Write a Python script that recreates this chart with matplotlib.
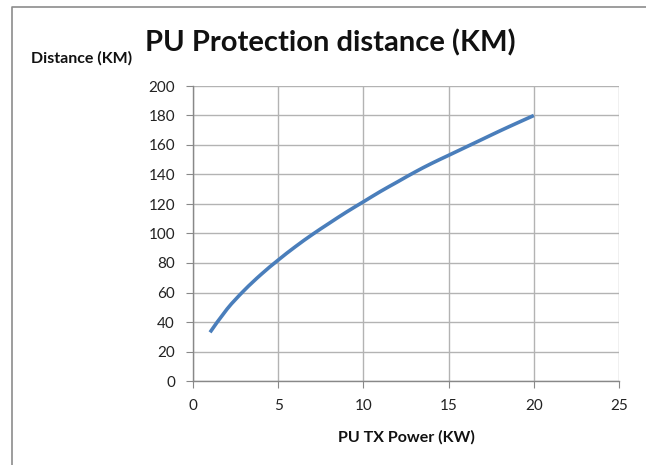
import matplotlib
matplotlib.use("Agg")
import matplotlib.pyplot as plt
from matplotlib.lines import Line2D
from matplotlib.path import Path
from matplotlib.patches import PathPatch

plt.rcParams['font.family'] = ['Lato', 'DejaVu Sans']

power_kw = [1, 2, 3, 4, 5, 6, 7, 8, 9, 10, 11, 12, 13, 14, 15, 16, 17, 18, 19, 20]
distance_km = [33, 48.8, 61.4, 72.3, 82, 91, 99.3, 107, 114.5, 121.5, 128.5, 135, 141.5,
               147.5, 153, 158.5, 164, 169.5, 174.8, 180]
x_ticks = [0, 5, 10, 15, 20, 25]
y_ticks = [0, 20, 40, 60, 80, 100, 120, 140, 160, 180, 200]

W, H = 646, 465
fig = plt.figure(figsize=(W / 100, H / 100), dpi=100)
ax = fig.add_axes([193 / W, 1 - 381 / H, (619 - 193) / W, (381 - 86) / H])


def smooth_path(xs, ys):
    # Catmull-Rom spline through the data points (like Excel's smoothed line)
    verts = [(xs[0], ys[0])]
    codes = [Path.MOVETO]
    n = len(xs)
    for i in range(n - 1):
        x0, y0 = (xs[i - 1], ys[i - 1]) if i > 0 else (xs[i], ys[i])
        x1, y1 = xs[i], ys[i]
        x2, y2 = xs[i + 1], ys[i + 1]
        x3, y3 = (xs[i + 2], ys[i + 2]) if i + 2 < n else (xs[i + 1], ys[i + 1])
        c1 = (x1 + (x2 - x0) / 6.0, y1 + (y2 - y0) / 6.0)
        c2 = (x2 - (x3 - x1) / 6.0, y2 - (y3 - y1) / 6.0)
        verts += [c1, c2, (x2, y2)]
        codes += [Path.CURVE4] * 3
    return Path(verts, codes)


ax.add_patch(PathPatch(smooth_path(power_kw, distance_km), facecolor='none',
                       edgecolor='#4a7ebb', lw=2.6, capstyle='butt', joinstyle='round'))

ax.set_xlim(0, 25)
ax.set_ylim(0, 200)
ax.set_xticks(x_ticks)
ax.set_yticks(y_ticks)
ax.grid(True, color='#b3b3b3', lw=1.0)
ax.set_axisbelow(True)
for s in ['top', 'right']:
    ax.spines[s].set_visible(False)
for s in ['left', 'bottom']:
    ax.spines[s].set_color('#888888')
    ax.spines[s].set_linewidth(1.0)
ax.tick_params(axis='both', direction='out', length=5, color='#888888',
               labelsize=11, labelcolor='#222222')
ax.tick_params(axis='x', pad=8)
ax.tick_params(axis='y', pad=8)

fig.text(330 / W, 1 - 43 / H, 'PU Protection distance (KM)', ha='center', va='center',
         fontsize=21, fontweight='bold', color='#111111')
fig.text(82 / W, 1 - 58 / H, 'Distance (KM)', ha='center', va='center',
         fontsize=11.5, fontweight='bold', color='#111111')
fig.text(406 / W, 1 - 437 / H, 'PU TX Power (KW)', ha='center', va='center',
         fontsize=11.5, fontweight='bold', color='#111111')

# chart border (cropped)
fig.add_artist(Line2D([12 / W, 12 / W, 1], [0, 1 - 7 / H, 1 - 7 / H],
                      transform=fig.transFigure, color='#8c8c8c', lw=1.2))

fig.savefig('out.png', dpi=100, facecolor='white')
